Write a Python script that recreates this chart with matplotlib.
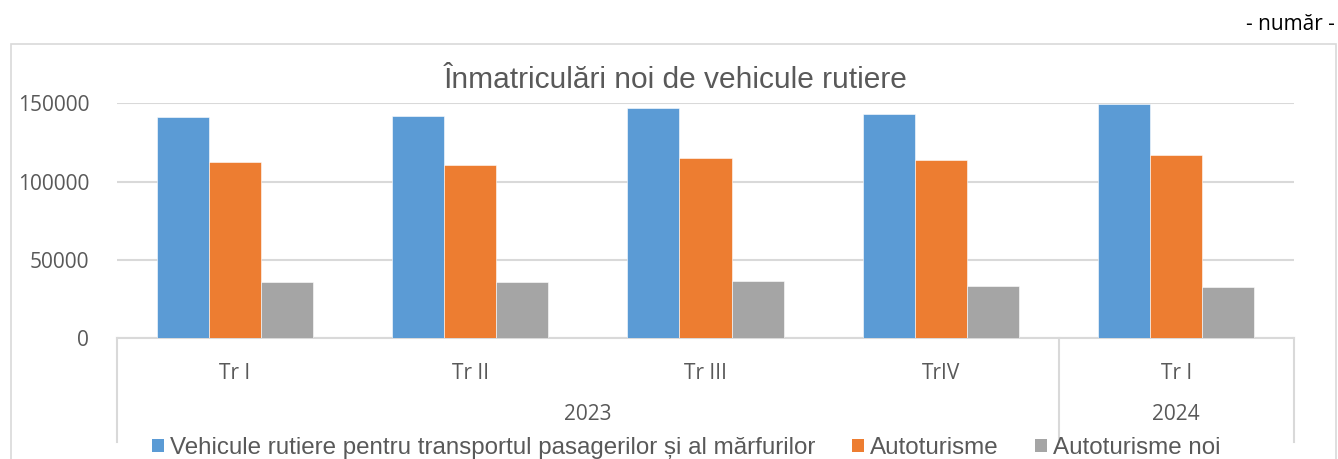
import numpy as np
import matplotlib.pyplot as plt
import matplotlib.transforms as mtransforms
from matplotlib.patches import Rectangle, Patch

# data
quarters = ["Tr I", "Tr II", "Tr III", "TrIV", "Tr I"]
years = ["2023", "2024"]
year_span = [(0, 4), (4, 5)]  # category index range covered by each year
vehicule = [141500, 141950, 147250, 143230, 149430]
autoturisme = [112390, 110660, 115320, 113860, 116860]
autoturisme_noi = [36140, 35950, 36400, 33200, 32570]
series_names = ["Vehicule rutiere pentru transportul pasagerilor și al mărfurilor",
                "Autoturisme", "Autoturisme noi"]
colors = ["#5B9BD5", "#ED7D31", "#A5A5A5"]

TEXT = "#595959"
GRID = "#D9D9D9"
tick_font = ["Open Sans", "DejaVu Sans"]
title_font = ["Liberation Sans", "DejaVu Sans"]

fig = plt.figure(figsize=(13.38, 4.59), dpi=100)

# chart area border (runs off the bottom like in the original)
fig.patches.append(Rectangle((11 / 1338, -0.05), (1336 - 11) / 1338, 1 - 44 / 459 + 0.05,
                             transform=fig.transFigure, fill=False,
                             edgecolor=GRID, linewidth=1.2))

ax = fig.add_axes([117 / 1338, (459 - 338.3) / 459, (1294 - 117) / 1338, 235 / 459])

x = np.arange(len(quarters))
w = 0.221
for i, vals in enumerate([vehicule, autoturisme, autoturisme_noi]):
    ax.bar(x + (i - 1) * w, vals, width=w, color=colors[i], label=series_names[i],
           edgecolor="white", linewidth=0.4, zorder=3)

ax.set_xlim(-0.5, len(quarters) - 0.5)
ax.set_ylim(0, 150000)
ax.set_yticks([0, 50000, 100000, 150000])
ax.set_yticklabels(["0", "50000", "100000", "150000"], fontfamily=tick_font,
                   fontsize=15, color=TEXT)
ax.tick_params(axis="y", length=0, pad=20)
ax.set_xticks([])
ax.grid(axis="y", color=GRID, linewidth=1.5, zorder=0)
for s in ["top", "right", "left"]:
    ax.spines[s].set_visible(False)
ax.spines["bottom"].set_color(GRID)
ax.spines["bottom"].set_linewidth(1.5)

# multi-level category axis: quarters, then years, with divider lines
trans = mtransforms.blended_transform_factory(ax.transData, ax.transAxes)
for xi, q in zip(x, quarters):
    ax.text(xi, -0.148, q, transform=trans, ha="center", va="center",
            fontfamily=tick_font, fontsize=15, color=TEXT)
for yr, (a, b) in zip(years, year_span):
    ax.text((a + b - 1) / 2, -0.326, yr, transform=trans, ha="center",
            va="center", fontfamily=tick_font, fontsize=15, color=TEXT)
for xb in [-0.5, 3.5, 4.5]:
    ax.plot([xb, xb], [0, -0.44], transform=trans, color=GRID, linewidth=1.5,
            clip_on=False)

fig.text(676 / 1338, 1 - 80 / 459, "Înmatriculări noi de vehicule rutiere",
         ha="center", va="center", fontfamily=title_font, fontsize=21.5, color=TEXT)
fig.text(1335 / 1338, 1 - 25 / 459, "- număr -", ha="right", va="center",
         fontfamily=tick_font, fontsize=15, color="black")

handles = [Patch(facecolor=c, edgecolor="none") for c in colors]
fig.legend(handles, series_names, loc="center", bbox_to_anchor=(686 / 1338, 1 - 448 / 459),
           ncol=3, frameon=False, prop={"family": title_font, "size": 17.4},
           labelcolor=TEXT, handlelength=0.5, handleheight=0.5, handletextpad=0.25,
           columnspacing=1.5, borderpad=0, borderaxespad=0)

fig.savefig("out.png", dpi=100)
